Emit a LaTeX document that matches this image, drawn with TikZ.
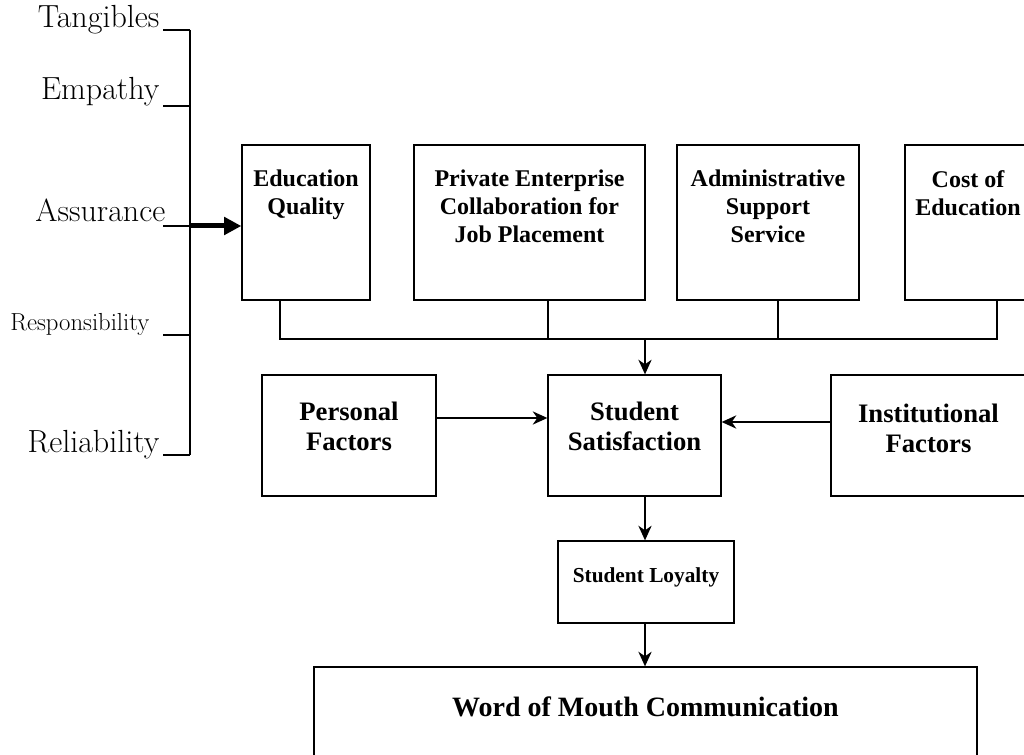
\documentclass[tikz,border=0pt]{standalone}
\usepackage{fontspec}
\newfontfamily\tnr{Liberation Serif}
\usetikzlibrary{arrows.meta,fit,calc}

\begin{document}
\begin{tikzpicture}[x=0.75pt, y=-0.75pt, line width=1pt,
  blk/.style={draw, inner sep=0pt},
  dim/.style={anchor=base east, inner sep=0pt},
  toptxt/.style={font=\tnr\bfseries\fontsize{18}{21}\selectfont, align=center, inner sep=0pt, anchor=north},
  midtxt/.style={font=\tnr\bfseries\fontsize{20}{22.5}\selectfont, align=center, inner sep=0pt, anchor=north},
  arr/.style={-{Stealth[length=11pt, width=10pt, inset=3.5pt]}},
  bigarr/.style={-{Triangle[length=13pt, width=13pt]}, line width=3.75pt}]
  \useasboundingbox (0,0) rectangle (1024,755);
  \clip (0,0) rectangle (1024,755);

  % service quality dimensions
  \coordinate (brk-t) at (190,30);
  \coordinate (brk-b) at (190,455);
  \draw (brk-t) -- (brk-b);
  \foreach \nm/\txt/\fs/\xe/\yb/\yt in {tan/Tangibles/24/160/28/30, emp/Empathy/24/160/100/106,
      asr/Assurance/24/166/222/226, res/Responsibility/18.5/150/331/335, rel/Reliability/24/160/452/455}{
    \node[dim, font=\fontsize{\fs}{\fs}\selectfont] (\nm) at (\xe,\yb) {\txt};
    \coordinate (\nm-tick) at (163,\yt);
    \draw (\nm-tick) -- (\nm-tick -| brk-t);
  }

  % top row
  \node[blk, fit={(242,145) (370,300)}] (eq) {};
  \node[toptxt] (eq-t) at ([yshift=-19pt]eq.north) {Education\\Quality};
  \node[blk, fit={(414,145) (645,300)}] (pe) {};
  \node[toptxt] (pe-t) at ([yshift=-19pt]pe.north) {Private Enterprise\\Collaboration for\\Job Placement};
  \node[blk, fit={(677,145) (859,300)}] (as) {};
  \node[toptxt] (as-t) at ([yshift=-19pt]as.north) {Administrative\\Support\\Service};
  \node[blk, fit={(905,145) (1031,300)}] (co) {};
  \node[toptxt] (co-t) at ([yshift=-19pt]co.north) {Cost of\\Education};

  \draw[bigarr] (asr-tick -| brk-t) -- (asr-tick -| eq.west);

  % middle row
  \node[blk, fit={(262,375) (436,496)}] (pf) {};
  \node[midtxt] (pf-t) at ([yshift=-20pt]pf.north) {Personal\\Factors};
  \node[blk, fit={(548,375) (721,496)}] (ss) {};
  \node[midtxt] (ss-t) at ([yshift=-20pt]ss.north) {Student\\Satisfaction};
  \node[blk, fit={(831,375) (1026,496)}] (inf) {};
  \node[midtxt] (inf-t) at ([yshift=-21.5pt]inf.north) {Institutional\\Factors};

  % bottom
  \node[blk, fit={(558,541) (734,623)}] (sl) {};
  \node[anchor=north, inner sep=0pt, font=\tnr\bfseries\fontsize{16}{19}\selectfont] (sl-t)
    at ([yshift=-20pt]sl.north) {Student Loyalty};
  \node[blk, fit={(314,667) (977,780)}] (wom) {};
  \node[anchor=north, inner sep=0pt, font=\tnr\bfseries\fontsize{21}{25}\selectfont] (wom-t)
    at ([yshift=-22pt]wom.north) {Word of Mouth Communication};

  % joining line under the top row
  \coordinate (bus) at (645,339);
  \coordinate (d1) at ($(eq.south)+(-26,0)$);
  \coordinate (d2) at ($(pe.south)+(18.5,0)$);
  \coordinate (d3) at ($(as.south)+(10,0)$);
  \coordinate (d4) at ($(co.south)+(29,0)$);
  \draw (d1) |- (bus) -| (d4);
  \draw (d2) -- (d2 |- bus);
  \draw (d3) -- (d3 |- bus);
  \draw[arr] (bus) -- (bus |- ss.north);

  \draw[arr] ($(pf.east)+(0,-17.5)$) -- ($(ss.west)+(0,-17.5)$);
  \draw[arr] ($(inf.west)+(0,-13.5)$) -- ($(ss.east)+(0,-13.5)$);
  \draw[arr] (bus |- ss.south) -- (bus |- sl.north);
  \draw[arr] (bus |- sl.south) -- (bus |- wom.north);
\end{tikzpicture}
\end{document}
